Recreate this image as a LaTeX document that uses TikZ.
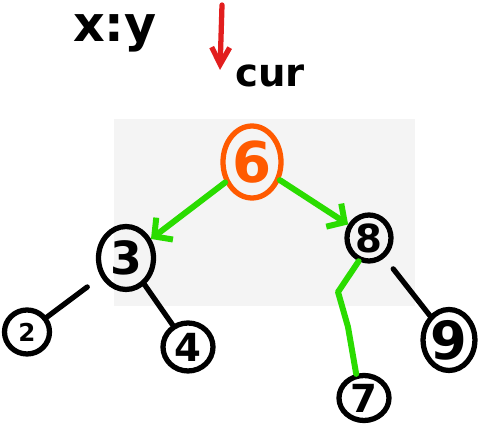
\documentclass[tikz,border=0pt]{standalone}
\usepackage{fontspec}
\setmainfont{DejaVu Sans}
\usetikzlibrary{arrows.meta,shapes.geometric}
\definecolor{pengreen}{HTML}{2ADC00}
\definecolor{penorange}{HTML}{FF5A00}
\definecolor{penred}{HTML}{E21E1E}
\definecolor{boardgray}{HTML}{F4F4F4}

\begin{document}
\begin{tikzpicture}[x=0.02cm,y=-0.02cm,
    tnode/.style={ellipse,draw=black,line width=3pt,inner sep=0pt,
      font=\fontsize{22}{22}\selectfont\bfseries},
    tedge/.style={line width=3pt,line cap=round},
    visit/.style={line width=3.4pt,line cap=round,line join=round,draw=pengreen},
    visitarrow/.style={visit,-{Straight Barb[length=0.26cm,width=0.55cm]}}]
  \useasboundingbox (0,0) rectangle (481,425);
  \fill[boardgray] (114,119) rectangle (415,306); % board behind the top of the tree

  \node[font=\fontsize{28}{28}\selectfont\bfseries] (cond) at (115,33) {x:y};
  \node[font=\fontsize{22}{22}\selectfont\bfseries] (curlbl) at (270,76) {cur};
  \coordinate (curtop) at (222,5);
  \coordinate (curtip) at (220,70);
  \draw[line width=3pt,line cap=round,draw=penred,
    -{Straight Barb[length=0.34cm,width=0.36cm]}] (curtop) -- (curtip); % cur pointer

  \node[tnode,draw=penorange,text=penorange,minimum width=1.16cm,minimum height=1.44cm,
    font=\fontsize{32}{32}\selectfont\bfseries] (n6) at (252,162) {6};
  \node[tnode,minimum width=1.1cm,minimum height=1.26cm,font=\fontsize{26}{26}\selectfont\bfseries] (n3) at (126,258) {3};
  \node[tnode,minimum width=0.88cm,minimum height=0.92cm] (n8) at (369,238) {8};
  \node[tnode,minimum width=0.9cm,minimum height=0.88cm,font=\fontsize{14}{14}\selectfont\bfseries] (n2) at (27,332) {2};
  \node[tnode,minimum width=1.0cm,minimum height=0.96cm] (n4) at (188,347) {4};
  \node[tnode,minimum width=1.0cm,minimum height=0.9cm] (n7) at (364,398) {7};
  \node[tnode,minimum width=0.94cm,minimum height=1.22cm,font=\fontsize{30}{30}\selectfont\bfseries] (n9) at (449,340) {9};

  \draw[visitarrow] (n6) -- (n3); % go left
  \draw[visitarrow] (n6) -- (n8); % go right

  \draw[tedge,shorten <=0.34cm] (n3) -- (n2);
  \draw[tedge] (n3) -- (n4);
  \draw[tedge,shorten <=0.28cm] (n8) -- (n9);

  \coordinate (bend1) at (338,292);
  \coordinate (bend2) at (348,327);
  \draw[visit] (n8.246) -- (bend1) -- (bend2) -- (n7.108); % path down to 7
\end{tikzpicture}
\end{document}
